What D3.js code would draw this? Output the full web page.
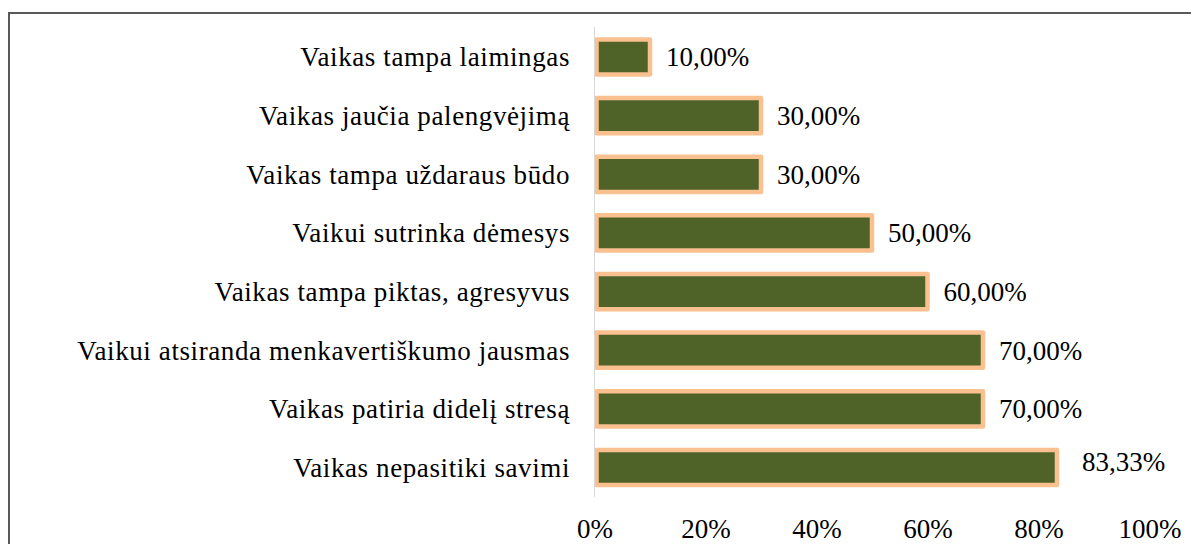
<!DOCTYPE html>
<meta charset="utf-8">
<style>

body
{
  margin: 0;
  background: #fff;
}

svg text
{
  font-family: "Liberation Serif", "Times New Roman", Times, serif;
  fill: #000;
}

.bars rect
{
  fill: #4f6228;
  stroke: #fac090;
  stroke-width: 4.5px;
  stroke-linejoin: round;
}

</style>
<svg width="1191" height="544"></svg>
<script src="https://d3js.org/d3.v7.min.js"></script>
<script>

var categories = [
  "Vaikas tampa laimingas",
  "Vaikas jaučia palengvėjimą",
  "Vaikas tampa uždaraus būdo",
  "Vaikui sutrinka dėmesys",
  "Vaikas tampa piktas, agresyvus",
  "Vaikui atsiranda menkavertiškumo jausmas",
  "Vaikas patiria didelį stresą",
  "Vaikas nepasitiki savimi"
];

var values = [10.00, 30.00, 30.00, 50.00, 60.00, 70.00, 70.00, 83.33];

var xTicks = [0, 20, 40, 60, 80, 100];

var serif = "\"Liberation Serif\", \"Times New Roman\", Times, serif";

var svg = d3.select("svg"),
    width = +svg.attr("width"),
    height = +svg.attr("height");

// frame (only top and left edges are visible in the crop)
svg.append("path")
    .attr("d", "M9,544V13H1191")
    .attr("fill", "none")
    .attr("stroke", "#595959")
    .attr("stroke-width", 2);

var x = d3.scaleLinear()
    .domain([0, 100])
    .range([594.5, 1149.5]);

var y = d3.scaleBand()
    .domain(categories)
    .range([27.7, 496.8])
    .paddingInner(0.4)
    .paddingOuter(0.2);

svg.append("g")
    .attr("class", "bars")
  .selectAll("rect")
  .data(values)
  .enter().append("rect")
    .attr("x", x(0) + 2)
    .attr("y", function(d, i) { return y(categories[i]); })
    .attr("width", function(d) { return x(d) - x(0) - 2; })
    .attr("height", y.bandwidth());

// vertical category axis line
svg.append("line")
    .attr("x1", x(0)).attr("x2", x(0))
    .attr("y1", 27).attr("y2", 497)
    .attr("stroke", "#d9d9d9")
    .attr("stroke-width", 1);

// category labels
svg.append("g")
  .selectAll("text")
  .data(categories)
  .enter().append("text")
    .attr("x", 570)
    .attr("y", function(d) { return y(d) + y.bandwidth() / 2; })
    .attr("dy", "0.35em")
    .attr("text-anchor", "end")
    .attr("font-family", serif)
    .style("font-size", "27px")
    .style("letter-spacing", "0.6px")
    .text(function(d) { return d; });

// value labels
var fmt = function(v) { return v.toFixed(2).replace(".", ",") + "%"; };

svg.append("g")
  .selectAll("text")
  .data(values)
  .enter().append("text")
    .attr("x", function(d, i) { return x(d) + (i === values.length - 1 ? 25 : 16); })
    .attr("y", function(d, i) {
      var c = y(categories[i]) + y.bandwidth() / 2;
      return i === values.length - 1 ? c - 6 : c;
    })
    .attr("dy", "0.35em")
    .attr("font-family", serif)
    .style("font-size", "27px")
    .text(fmt);

// x axis tick labels
var xAxis = d3.axisBottom(x)
    .tickValues(xTicks)
    .tickSize(0)
    .tickPadding(0)
    .tickFormat(function(d) { return d + "%"; });

var gx = svg.append("g")
    .attr("transform", "translate(0,519)")
    .call(xAxis)
    .attr("font-family", serif)
    .attr("font-size", 27);

gx.select(".domain").remove();
gx.selectAll("text")
    .attr("dy", "0.71em")
    .attr("fill", "#000");

</script>
